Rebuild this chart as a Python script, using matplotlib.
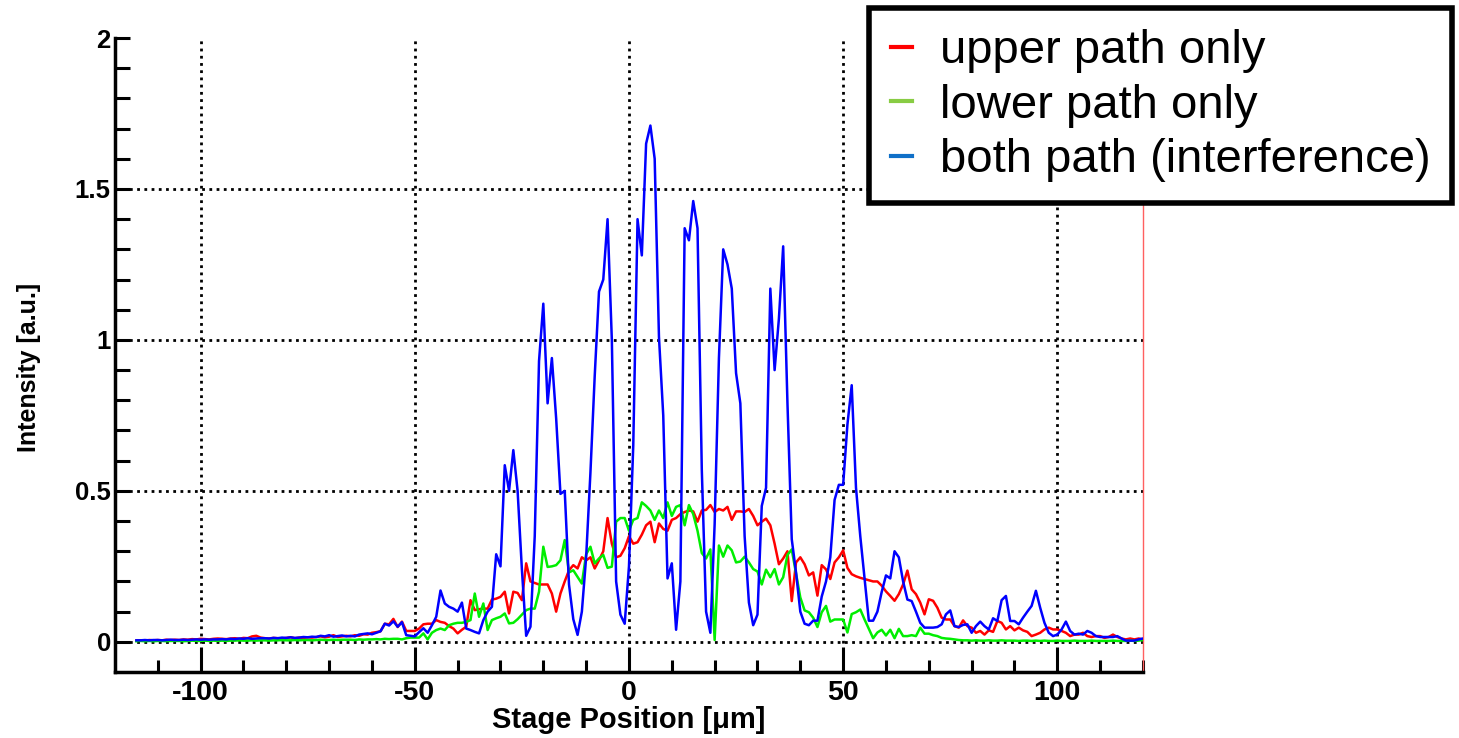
import numpy as np
import matplotlib.pyplot as plt
from matplotlib.lines import Line2D

plt.rcParams['font.family'] = ['Liberation Sans', 'DejaVu Sans']
plt.rcParams['axes.unicode_minus'] = False

# stage positions in um, one sample per micron
position = np.arange(-115, 121)

upper_path = [
    0.004, 0.005, 0.004, 0.006, 0.005, 0.006, 0.005, 0.007, 0.006, 0.007,
    0.006, 0.008, 0.007, 0.009, 0.008, 0.010, 0.009, 0.008, 0.010, 0.011,
    0.010, 0.009, 0.011, 0.012, 0.010, 0.013, 0.012, 0.018, 0.020, 0.014,
    0.012, 0.011, 0.013, 0.012, 0.011, 0.013, 0.015, 0.012, 0.014, 0.013,
    0.015, 0.014, 0.016, 0.018, 0.015, 0.017, 0.022, 0.016, 0.018, 0.020,
    0.018, 0.022, 0.020, 0.025, 0.024, 0.030, 0.032, 0.035, 0.060, 0.058,
    0.076, 0.049, 0.067, 0.036, 0.036, 0.036, 0.044, 0.058, 0.060, 0.060,
    0.072, 0.066, 0.063, 0.052, 0.044, 0.028, 0.040, 0.050, 0.138, 0.105,
    0.108, 0.110, 0.110, 0.140, 0.143, 0.149, 0.166, 0.094, 0.166, 0.162,
    0.138, 0.260, 0.200, 0.195, 0.190, 0.190, 0.190, 0.160, 0.100, 0.160,
    0.200, 0.237, 0.254, 0.243, 0.280, 0.270, 0.280, 0.243, 0.270, 0.300,
    0.410, 0.325, 0.280, 0.285, 0.310, 0.350, 0.325, 0.330, 0.355, 0.386,
    0.398, 0.330, 0.392, 0.374, 0.368, 0.404, 0.410, 0.423, 0.430, 0.435,
    0.432, 0.398, 0.435, 0.437, 0.453, 0.430, 0.440, 0.435, 0.447, 0.404,
    0.432, 0.432, 0.430, 0.440, 0.417, 0.386, 0.398, 0.408, 0.386, 0.325,
    0.257, 0.276, 0.300, 0.135, 0.263, 0.280, 0.257, 0.220, 0.230, 0.153,
    0.254, 0.240, 0.208, 0.263, 0.280, 0.303, 0.245, 0.224, 0.217, 0.212,
    0.208, 0.204, 0.200, 0.200, 0.186, 0.167, 0.152, 0.136, 0.158, 0.190,
    0.236, 0.174, 0.158, 0.130, 0.091, 0.141, 0.136, 0.113, 0.080, 0.074,
    0.074, 0.052, 0.047, 0.071, 0.052, 0.047, 0.030, 0.036, 0.024, 0.038,
    0.033, 0.069, 0.063, 0.041, 0.052, 0.038, 0.047, 0.038, 0.033, 0.019,
    0.024, 0.030, 0.041, 0.047, 0.041, 0.041, 0.036, 0.030, 0.019, 0.024,
    0.024, 0.030, 0.019, 0.016, 0.019, 0.019, 0.013, 0.016, 0.024, 0.016,
    0.011, 0.008, 0.011, 0.008, 0.011, 0.008,
]

lower_path = [
    0.002, 0.003, 0.002, 0.003, 0.002, 0.003, 0.003, 0.002, 0.003, 0.003,
    0.003, 0.002, 0.003, 0.004, 0.003, 0.003, 0.004, 0.003, 0.004, 0.003,
    0.004, 0.003, 0.004, 0.004, 0.005, 0.004, 0.004, 0.005, 0.004, 0.005,
    0.005, 0.004, 0.005, 0.005, 0.006, 0.005, 0.005, 0.006, 0.005, 0.006,
    0.006, 0.005, 0.006, 0.007, 0.006, 0.006, 0.007, 0.006, 0.007, 0.007,
    0.007, 0.006, 0.008, 0.007, 0.008, 0.008, 0.009, 0.008, 0.010, 0.009,
    0.010, 0.010, 0.008, 0.012, 0.014, 0.014, 0.014, 0.028, 0.008, 0.030,
    0.039, 0.044, 0.039, 0.055, 0.060, 0.063, 0.063, 0.066, 0.072, 0.160,
    0.083, 0.127, 0.039, 0.072, 0.078, 0.083, 0.094, 0.061, 0.063, 0.075,
    0.090, 0.105, 0.110, 0.110, 0.166, 0.315, 0.248, 0.250, 0.254, 0.270,
    0.337, 0.230, 0.237, 0.215, 0.193, 0.290, 0.315, 0.260, 0.276, 0.288,
    0.245, 0.249, 0.398, 0.410, 0.410, 0.368, 0.404, 0.410, 0.462, 0.450,
    0.435, 0.404, 0.435, 0.410, 0.462, 0.417, 0.447, 0.453, 0.386, 0.453,
    0.423, 0.368, 0.294, 0.276, 0.306, 0.006, 0.319, 0.282, 0.319, 0.303,
    0.263, 0.266, 0.282, 0.263, 0.241, 0.233, 0.190, 0.239, 0.214, 0.241,
    0.190, 0.214, 0.288, 0.306, 0.227, 0.147, 0.104, 0.098, 0.080, 0.049,
    0.098, 0.119, 0.067, 0.074, 0.074, 0.074, 0.031, 0.092, 0.098, 0.107,
    0.074, 0.043, 0.012, 0.031, 0.040, 0.021, 0.040, 0.012, 0.043, 0.019,
    0.019, 0.022, 0.019, 0.047, 0.027, 0.027, 0.022, 0.019, 0.013, 0.011,
    0.010, 0.008, 0.006, 0.005, 0.005, 0.004, 0.005, 0.004, 0.004, 0.005,
    0.004, 0.004, 0.005, 0.004, 0.004, 0.004, 0.003, 0.004, 0.004, 0.003,
    0.004, 0.003, 0.004, 0.003, 0.003, 0.004, 0.003, 0.003, 0.003, 0.004,
    0.003, 0.003, 0.003, 0.004, 0.003, 0.003, 0.003, 0.003, 0.004, 0.003,
    0.003, 0.003, 0.004, 0.003, 0.004, 0.006,
]

both_paths = [
    0.005, 0.005, 0.006, 0.005, 0.006, 0.006, 0.005, 0.006, 0.007, 0.006,
    0.006, 0.007, 0.006, 0.007, 0.008, 0.007, 0.008, 0.007, 0.008, 0.008,
    0.009, 0.008, 0.010, 0.009, 0.011, 0.010, 0.012, 0.010, 0.011, 0.012,
    0.012, 0.011, 0.013, 0.012, 0.014, 0.013, 0.015, 0.013, 0.014, 0.016,
    0.015, 0.017, 0.016, 0.020, 0.018, 0.022, 0.017, 0.019, 0.021, 0.018,
    0.020, 0.018, 0.024, 0.026, 0.028, 0.025, 0.030, 0.035, 0.060, 0.054,
    0.068, 0.050, 0.065, 0.022, 0.020, 0.018, 0.032, 0.045, 0.030, 0.055,
    0.083, 0.170, 0.127, 0.116, 0.110, 0.100, 0.130, 0.044, 0.039, 0.033,
    0.028, 0.072, 0.100, 0.116, 0.290, 0.250, 0.585, 0.500, 0.635, 0.500,
    0.240, 0.020, 0.050, 0.350, 0.930, 1.120, 0.790, 0.940, 0.740, 0.490,
    0.500, 0.190, 0.075, 0.023, 0.100, 0.280, 0.560, 0.880, 1.160, 1.200,
    1.400, 1.000, 0.200, 0.090, 0.060, 0.250, 0.650, 1.400, 1.280, 1.650,
    1.710, 1.600, 1.010, 0.750, 0.210, 0.260, 0.040, 0.200, 1.370, 1.330,
    1.460, 1.370, 0.570, 0.100, 0.030, 0.390, 0.940, 1.300, 1.250, 1.170,
    0.890, 0.790, 0.350, 0.130, 0.055, 0.090, 0.450, 0.510, 1.170, 0.900,
    1.070, 1.310, 0.790, 0.340, 0.230, 0.100, 0.060, 0.055, 0.070, 0.070,
    0.150, 0.200, 0.280, 0.470, 0.520, 0.520, 0.720, 0.850, 0.510, 0.350,
    0.210, 0.070, 0.070, 0.100, 0.165, 0.220, 0.210, 0.300, 0.280, 0.200,
    0.140, 0.135, 0.100, 0.063, 0.047, 0.047, 0.047, 0.049, 0.058, 0.091,
    0.104, 0.052, 0.049, 0.056, 0.058, 0.030, 0.052, 0.067, 0.052, 0.041,
    0.078, 0.069, 0.138, 0.152, 0.069, 0.069, 0.058, 0.080, 0.100, 0.119,
    0.169, 0.113, 0.063, 0.030, 0.019, 0.024, 0.041, 0.067, 0.036, 0.024,
    0.027, 0.024, 0.036, 0.030, 0.019, 0.016, 0.016, 0.016, 0.016, 0.019,
    0.011, 0.004, 0.004, 0.004, 0.008, 0.011,
]

labels = ["upper path only", "lower path only", "both path (interference)"]
line_colors = ["#ff0000", "#00ee00", "#0000ff"]
legend_colors = ["#ff0000", "#88cc44", "#1070c8"]

fig = plt.figure(figsize=(14.59, 7.38), dpi=100)
ax = fig.add_axes([0.0788, 0.0894, 0.7046, 0.8591])

for ys, c in zip([upper_path, lower_path, both_paths], line_colors):
    ax.plot(position, ys, color=c, lw=1.8, zorder=3)

ax.set_xlim(-120, 120)
ax.set_ylim(-0.1, 2.0)

# dotted grid (ROOT style), none on the top edge
dots = (0, (1, 1.6))
for gx in [-100, -50, 0, 50, 100]:
    ax.axvline(gx, color="black", lw=2, ls=dots, zorder=1)
for gy in [0, 0.5, 1, 1.5]:
    ax.axhline(gy, color="black", lw=2, ls=dots, zorder=1)

ax.set_xticks([-100, -50, 0, 50, 100])
ax.set_xticks(np.arange(-110, 121, 10), minor=True)
ax.set_yticks([0, 0.5, 1, 1.5, 2])
ax.set_yticklabels(["0", "0.5", "1", "1.5", "2"])
ax.set_yticks(np.arange(0, 2.01, 0.1), minor=True)
ax.tick_params(axis="x", which="major", direction="in", length=18, width=2.2,
               labelsize=20.5, pad=6)
ax.tick_params(axis="x", which="minor", direction="in", length=9, width=2.2)
ax.tick_params(axis="y", which="both", direction="in", length=11, width=2.2,
               labelsize=18.5, pad=3)
for lab in ax.get_xticklabels() + ax.get_yticklabels():
    lab.set_fontweight("bold")

ax.spines["top"].set_visible(False)
ax.spines["left"].set_linewidth(2.5)
ax.spines["bottom"].set_linewidth(2.5)
ax.spines["right"].set_color("#ff6060")
ax.spines["right"].set_linewidth(1)

ax.set_xlabel("Stage Position [μm]", fontsize=21, fontweight="bold", labelpad=0)
ax.set_ylabel("Intensity [a.u.]", fontsize=18, fontweight="bold")
ax.yaxis.set_label_coords(-0.072, 0.48)

handles = [Line2D([], [], color=c, lw=3) for c in legend_colors]
leg = fig.legend(handles, labels, loc="upper right", bbox_to_anchor=(0.9952, 0.989),
                 fontsize=34, handlelength=0.45, handletextpad=0.6,
                 labelspacing=0.22, borderpad=0.45, borderaxespad=0,
                 fancybox=False, framealpha=1)
leg.get_frame().set_edgecolor("black")
leg.get_frame().set_linewidth(4)

fig.savefig("out.png", dpi=100)
